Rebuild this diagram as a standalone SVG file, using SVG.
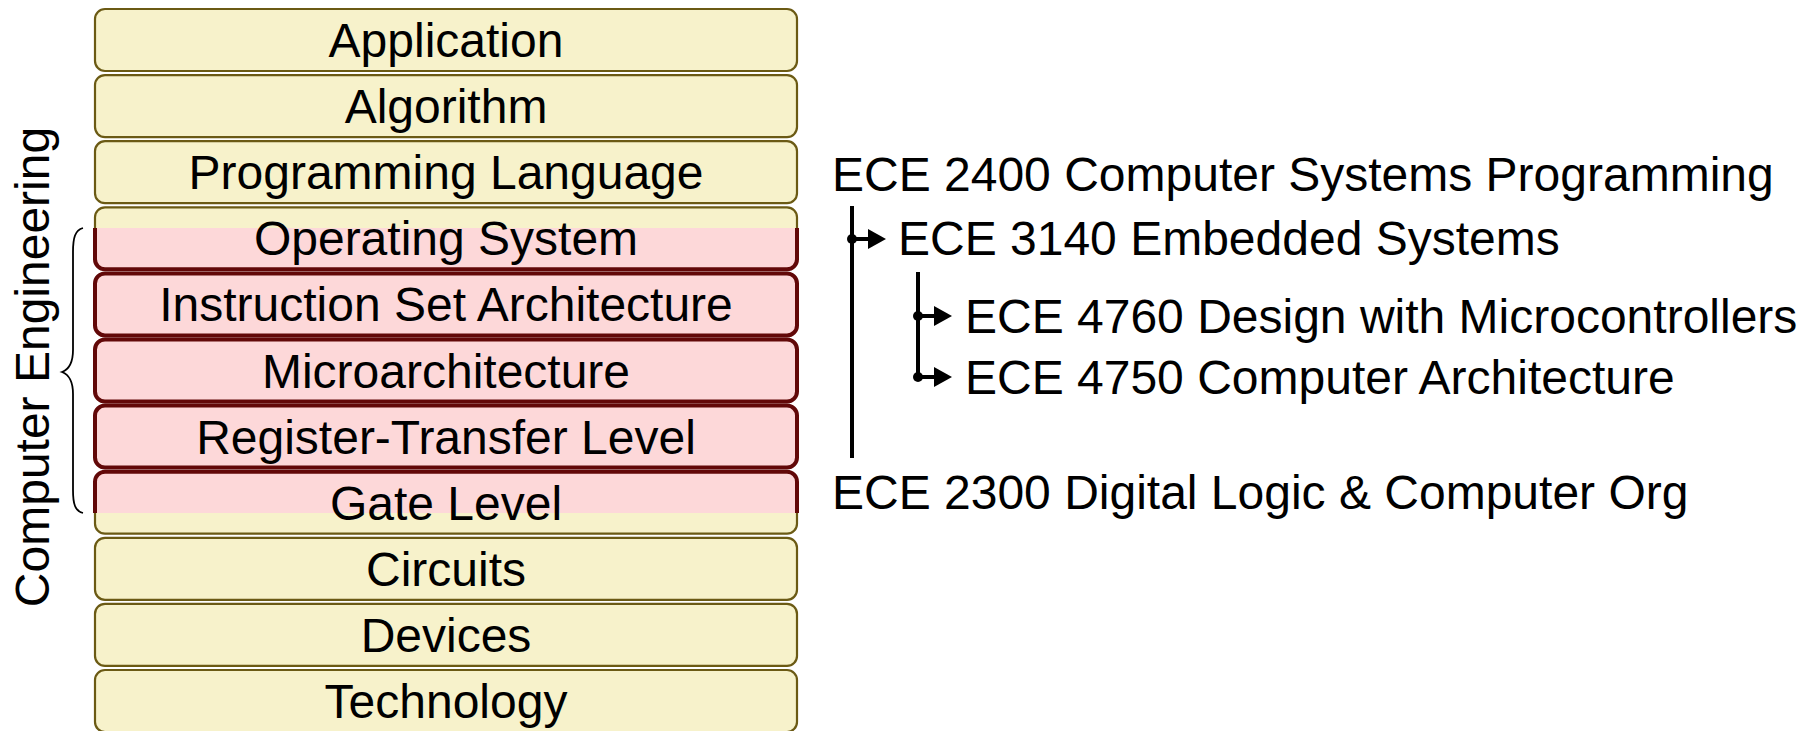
<svg xmlns="http://www.w3.org/2000/svg" width="1818" height="731" viewBox="0 0 1818 731">
<style>
.yb{fill:#f7f2cb;stroke:#6b5a14;stroke-width:2.2}
.pb{fill:#fdd8d9;stroke:#620808;stroke-width:4}
.t{font-family:"Liberation Sans",Arial,Helvetica,sans-serif;font-size:48px;fill:#000}
.c{text-anchor:middle}
.ln{stroke:#000;stroke-width:4;fill:none}
</style>
<defs>
<clipPath id="pinkclip"><rect x="80" y="228" width="740" height="285"/></clipPath>
<marker id="arr" markerUnits="userSpaceOnUse" viewBox="0 0 18 20" refX="0" refY="10" markerWidth="18" markerHeight="20" orient="auto"><path d="M0,0 L18,10 L0,20 z" fill="#000"/></marker>
</defs>
<g id="stack-yellow">
<rect class="yb" x="95" y="9" width="702" height="62" rx="10"/>
<rect class="yb" x="95" y="75.1" width="702" height="62" rx="10"/>
<rect class="yb" x="95" y="141.2" width="702" height="62" rx="10"/>
<rect class="yb" x="95" y="207.3" width="702" height="62" rx="10"/>
<rect class="yb" x="95" y="273.4" width="702" height="62" rx="10"/>
<rect class="yb" x="95" y="339.5" width="702" height="62" rx="10"/>
<rect class="yb" x="95" y="405.6" width="702" height="62" rx="10"/>
<rect class="yb" x="95" y="471.7" width="702" height="62" rx="10"/>
<rect class="yb" x="95" y="537.8" width="702" height="62" rx="10"/>
<rect class="yb" x="95" y="603.9" width="702" height="62" rx="10"/>
<rect class="yb" x="95" y="670" width="702" height="62" rx="10"/>
</g>
<g id="stack-pink" clip-path="url(#pinkclip)">
<rect class="pb" x="95" y="207.3" width="702" height="62" rx="10"/>
<rect class="pb" x="95" y="273.4" width="702" height="62" rx="10"/>
<rect class="pb" x="95" y="339.5" width="702" height="62" rx="10"/>
<rect class="pb" x="95" y="405.6" width="702" height="62" rx="10"/>
<rect class="pb" x="95" y="471.7" width="702" height="62" rx="10"/>
</g>
<g id="application"><text class="t c" x="446" y="57">Application</text></g>
<g id="algorithm"><text class="t c" x="446" y="123.1">Algorithm</text></g>
<g id="programming-language"><text class="t c" x="446" y="189.2">Programming Language</text></g>
<g id="operating-system"><text class="t c" x="446" y="255.3">Operating System</text></g>
<g id="isa"><text class="t c" x="446" y="321.4">Instruction Set Architecture</text></g>
<g id="microarchitecture"><text class="t c" x="446" y="387.5">Microarchitecture</text></g>
<g id="rtl"><text class="t c" x="446" y="453.6">Register-Transfer Level</text></g>
<g id="gate-level"><text class="t c" x="446" y="519.7">Gate Level</text></g>
<g id="circuits"><text class="t c" x="446" y="585.8">Circuits</text></g>
<g id="devices"><text class="t c" x="446" y="651.9">Devices</text></g>
<g id="technology"><text class="t c" x="446" y="718">Technology</text></g>
<g id="computer-engineering">
<path d="M83,228 C75,230 73,238 73,252 L73,350 C73,362 70,369 62,372 C70,375 73,382 73,394 L73,490 C73,504 75,511 83,513" fill="none" stroke="#000" stroke-width="1.8"/>
<text class="t c" transform="translate(49,367) rotate(-90)">Computer Engineering</text>
</g>
<g id="ece2400"><text class="t" x="832" y="191">ECE 2400 Computer Systems Programming</text></g>
<g id="ece3140"><text class="t" x="898" y="255">ECE 3140 Embedded Systems</text></g>
<g id="ece4760"><text class="t" x="965" y="333">ECE 4760 Design with Microcontrollers</text></g>
<g id="ece4750"><text class="t" x="965" y="394">ECE 4750 Computer Architecture</text></g>
<g id="ece2300"><text class="t" x="832" y="509">ECE 2300 Digital Logic &amp; Computer Org</text></g>
<g id="connectors">
<line class="ln" x1="852" y1="206" x2="852" y2="458"/>
<line class="ln" x1="852" y1="239" x2="868" y2="239" marker-end="url(#arr)"/>
<circle cx="852" cy="239" r="5" fill="#000"/>
<line class="ln" x1="918" y1="272" x2="918" y2="377"/>
<line class="ln" x1="918" y1="316" x2="934" y2="316" marker-end="url(#arr)"/>
<circle cx="918" cy="316" r="5" fill="#000"/>
<line class="ln" x1="918" y1="377" x2="934" y2="377" marker-end="url(#arr)"/>
<circle cx="918" cy="377" r="5" fill="#000"/>
</g>
</svg>
